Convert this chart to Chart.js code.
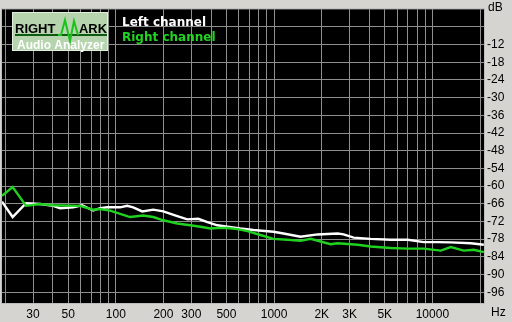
<!DOCTYPE html>
<html>
<head>
<meta charset="utf-8">
<script src="https://cdn.jsdelivr.net/npm/chart.js@4.4.0/dist/chart.umd.min.js"></script>
<style>
html, body { margin: 0; padding: 0; background: #d6d4d0; }
</style>
</head>
<body>
<canvas id="myChart" width="512" height="322"></canvas>
<script>
// values (Hz, dB)
var leftFreq = [19.1, 22.3, 27.1, 33.2, 40.2, 44.5, 53.8, 61.3, 71.9, 79.6, 88.2, 106.6, 118, 128.8, 146.9, 172.4, 199.5, 244.6, 283, 332, 379, 438, 507, 613, 741, 991, 1147, 1469, 1882, 2519, 2749, 3180, 4074, 5453, 6988, 8823, 10818, 13073, 17500, 21145];
var leftDb = [-65.3, -70.5, -65.8, -66.1, -66.7, -67.5, -67.2, -66.5, -68.3, -67.5, -67.2, -67.2, -66.7, -67.2, -68.6, -68.0, -68.6, -70.2, -71.3, -71.1, -72.2, -73.3, -73.8, -74.4, -74.9, -75.5, -76.1, -77.2, -76.4, -76.1, -76.4, -77.5, -77.9, -78.2, -78.2, -79.0, -79.0, -79.1, -79.4, -79.9];

var rightFreq = [19.1, 22.3, 27.1, 33.2, 40.2, 59.5, 71.9, 79.6, 92.2, 106.6, 123, 149, 172.4, 199.5, 244.6, 295.7, 342, 396, 438, 507, 586, 679, 820, 991, 1215, 1469, 1700, 2274, 2519, 3371, 4074, 5453, 6988, 8823, 11298, 13073, 15798, 18280, 21145];
var rightDb = [-63.3, -60.3, -66.7, -66.1, -66.5, -66.7, -68.0, -67.8, -68.3, -69.4, -70.5, -70.0, -70.5, -71.6, -72.7, -73.3, -73.8, -74.4, -74.2, -74.2, -74.6, -75.3, -76.6, -77.9, -78.2, -78.6, -77.9, -79.7, -79.4, -79.9, -80.5, -81.0, -81.2, -81.2, -81.9, -80.7, -81.9, -81.6, -82.4];

var gridFreq = [20, 30, 40, 50, 60, 70, 80, 90, 100, 200, 300, 400, 500, 600, 700, 800, 900,
    1000, 2000, 3000, 4000, 5000, 6000, 7000, 8000, 9000, 10000, 20000];
var freqLabels = { 30: "30", 50: "50", 100: "100", 200: "200", 300: "300", 500: "500",
    1000: "1000", 2000: "2K", 3000: "3K", 5000: "5K", 10000: "10000" };
var dbTicks = [-6, -12, -18, -24, -30, -36, -42, -48, -54, -60, -66, -72, -78, -84, -90, -96];

function toPoints(freq, db) {
    var pts = [];
    for (var i = 0; i < freq.length; i++) {
        pts.push({ x: freq[i], y: db[i] });
    }
    return pts;
}

var axisFont = { family: "'Liberation Sans', Arial, sans-serif", size: 12 };

var rmaaPlugin = {
    id: "rmaa",
    beforeDraw: function (chart) {
        var ctx = chart.ctx;
        var a = chart.chartArea;
        ctx.save();
        ctx.fillStyle = "#d6d4d0";
        ctx.fillRect(0, 0, chart.width, chart.height);
        ctx.fillStyle = "#000000";
        ctx.fillRect(a.left, a.top, a.right - a.left, a.bottom - a.top);
        ctx.restore();
    },
    afterDraw: function (chart) {
        var ctx = chart.ctx;
        var a = chart.chartArea;
        ctx.save();
        // frame
        ctx.strokeStyle = "#bdbdbd";
        ctx.lineWidth = 1;
        ctx.strokeRect(a.left - 0.5, a.top - 0.5, a.right - a.left, a.bottom - a.top);

        // unit labels
        ctx.fillStyle = "#000000";
        ctx.font = "12px 'Liberation Sans', Arial, sans-serif";
        ctx.textBaseline = "middle";
        ctx.textAlign = "left";
        ctx.fillText("dB", a.right + 3, 8);
        ctx.fillText("Hz", a.right + 6, 313);

        // logo
        ctx.fillStyle = "#b6d5ae";
        ctx.fillRect(12, 12, 96, 39);
        ctx.strokeStyle = "#e4eee0";
        ctx.strokeRect(12.5, 12.5, 95, 38);
        ctx.strokeStyle = "#0f5a12";
        ctx.lineWidth = 2;
        ctx.beginPath();
        ctx.moveTo(15, 35);
        ctx.lineTo(107, 35);
        ctx.stroke();
        ctx.strokeStyle = "#1cc21c";
        ctx.beginPath();
        ctx.moveTo(58, 35);
        ctx.lineTo(61, 35);
        ctx.lineTo(65, 20);
        ctx.lineTo(70, 41);
        ctx.lineTo(74, 21);
        ctx.lineTo(78, 35);
        ctx.stroke();
        ctx.fillStyle = "#000000";
        ctx.font = "bold 13px 'Liberation Sans', Arial, sans-serif";
        ctx.textBaseline = "alphabetic";
        ctx.fillText("RIGHT", 15, 33, 44);
        ctx.fillText("ARK", 79, 33, 28);
        ctx.fillStyle = "#ffffff";
        ctx.font = "bold 12px 'Liberation Sans', Arial, sans-serif";
        ctx.fillText("Audio Analyzer", 17, 49, 89);

        // legend
        ctx.font = "bold 12px 'DejaVu Sans', Verdana, sans-serif";
        var ds = chart.data.datasets;
        for (var i = 0; i < ds.length; i++) {
            ctx.fillStyle = ds[i].legendColor;
            ctx.fillText(ds[i].label, 122, 26 + i * 15);
        }
        ctx.restore();
    }
};

var ctx = document.getElementById("myChart");
var myChart = new Chart(ctx, {
    type: "line",
    data: {
        datasets: [{
            label: "Left channel",
            data: toPoints(leftFreq, leftDb),
            borderColor: "#ffffff",
            legendColor: "#ffffff",
            borderWidth: 2.4,
            order: 2
        }, {
            label: "Right channel",
            data: toPoints(rightFreq, rightDb),
            borderColor: "#1fd21f",
            legendColor: "#22d422",
            borderWidth: 2.4,
            order: 1
        }]
    },
    options: {
        responsive: false,
        animation: false,
        events: [],
        layout: { padding: { left: 2, top: 2, right: 0, bottom: 0 } },
        elements: {
            point: { radius: 0 },
            line: { tension: 0, fill: false }
        },
        plugins: {
            legend: { display: false },
            tooltip: { enabled: false }
        },
        scales: {
            x: {
                type: "logarithmic",
                position: "bottom",
                min: 19.1,
                max: 21500,
                afterBuildTicks: function (scale) {
                    scale.ticks = gridFreq.map(function (v) { return { value: v }; });
                },
                afterFit: function (scale) { scale.height = 18; },
                grid: { color: "#8f8f8f", lineWidth: 1, drawTicks: false },
                border: { display: false },
                ticks: {
                    autoSkip: false,
                    maxRotation: 0,
                    minRotation: 0,
                    padding: 3,
                    color: "#000000",
                    font: axisFont,
                    callback: function (value) { return freqLabels[value] || ""; }
                }
            },
            y: {
                type: "linear",
                position: "right",
                min: -100,
                max: 0,
                afterBuildTicks: function (scale) {
                    scale.ticks = dbTicks.map(function (v) { return { value: v }; });
                },
                afterFit: function (scale) { scale.width = 27; },
                grid: { color: "#8f8f8f", lineWidth: 1, drawTicks: false },
                border: { display: false },
                ticks: {
                    padding: 2,
                    crossAlign: "near",
                    color: "#000000",
                    font: axisFont,
                    callback: function (value) { return value === -6 ? "" : String(value); }
                }
            }
        }
    },
    plugins: [rmaaPlugin]
});
</script>
</body>
</html>
